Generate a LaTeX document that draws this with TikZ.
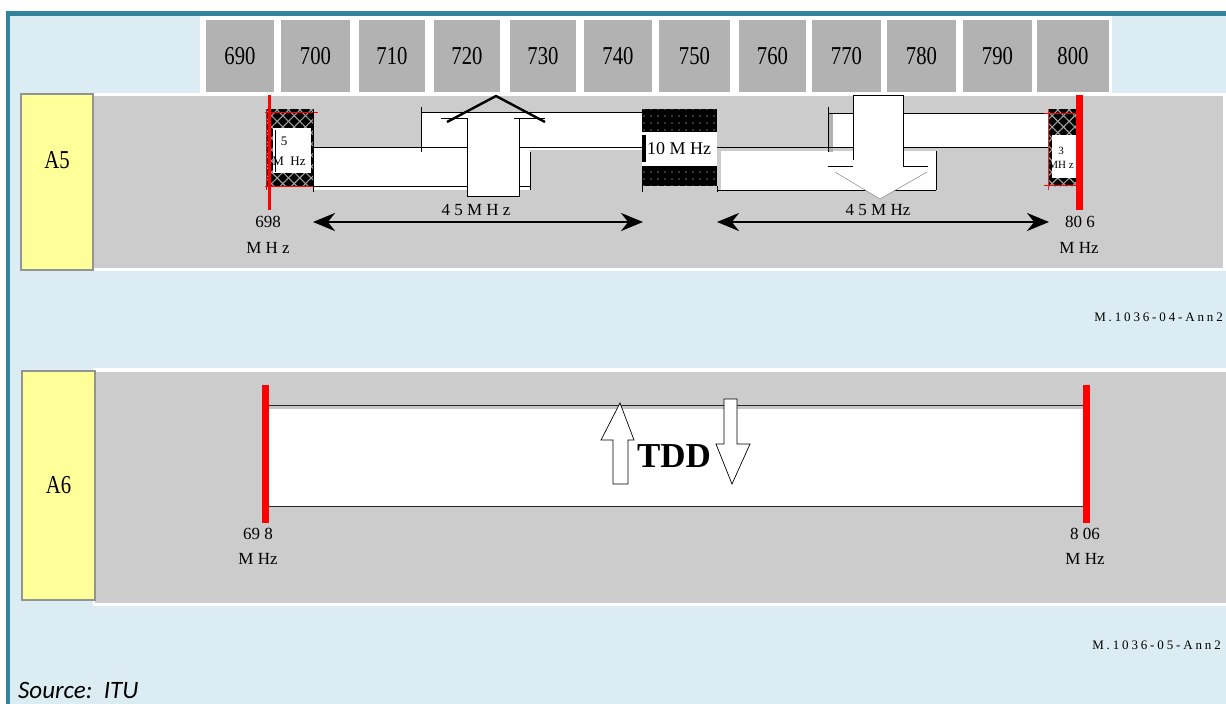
\documentclass[tikz,border=0pt]{standalone}
\usepackage{graphicx}
\usepackage{fontspec}
\setmainfont{Liberation Serif}
\newfontfamily\srcfont{Carlito}
\usetikzlibrary{arrows.meta,patterns.meta}
\definecolor{teal1}{RGB}{49,132,155}
\definecolor{lblue}{RGB}{219,237,243}
\definecolor{hgray}{RGB}{178,178,178}
\definecolor{bgray}{RGB}{204,204,204}
\definecolor{lyel}{RGB}{255,255,153}
\definecolor{rred}{RGB}{255,0,0}
\newcommand\fsz[1]{\fontsize{#1}{#1}\selectfont}
\newcommand\tallnum[1]{\scalebox{0.9}[1.12]{#1}}
\begin{document}
\begin{tikzpicture}[x=1pt,y=-1pt,
  hdr/.style={fill=hgray, minimum height=72pt, inner sep=0pt, font=\fsz{23}},
  lblbox/.style={draw=gray!85, line width=2pt, fill=lyel, inner sep=0pt},
  txt/.style={inner sep=0pt, font=\fsz{17}},
  small/.style={inner sep=0pt, font=\fsz{13}},
  wline/.style={draw=black, line width=0.6pt},
  dbl/.style={line width=2.8pt, {Stealth[length=22pt,width=18pt]}-{Stealth[length=22pt,width=18pt]}},
  redbar/.style={draw=rred, line width=#1},
  hatch/.style={pattern={Lines[angle=#1,distance=8pt,line width=1.1pt]}, pattern color=gray!75},
  dots/.style={pattern={Dots[radius=0.7pt,distance=7pt]}, pattern color=white!85!gray},
  arr/.style={draw=black, fill=white, line width=0.7pt},
  ref/.style={inner sep=0pt, anchor=east, font=\fsz{13}\addfontfeature{LetterSpace=22}}]
\useasboundingbox (0,0) rectangle (1226,704);
% background and frame
\fill[white] (0,0) rectangle (1226,704);
\fill[lblue] (10,16) rectangle (1226,704);
\fill[teal1] (6,11) rectangle (1226,16);
\fill[teal1] (6,11) rectangle (10,704);
% header
\fill[white] (200,16) rectangle (1112,94);
\node[hdr, minimum width=68pt] (h690) at (240,56) {\tallnum{690}};
\node[hdr, minimum width=69pt] (h700) at (315.5,56) {\tallnum{700}};
\node[hdr, minimum width=66pt] (h710) at (392,56) {\tallnum{710}};
\node[hdr, minimum width=66pt] (h720) at (467,56) {\tallnum{720}};
\node[hdr, minimum width=66pt] (h730) at (543,56) {\tallnum{730}};
\node[hdr, minimum width=68pt] (h740) at (618,56) {\tallnum{740}};
\node[hdr, minimum width=71pt] (h750) at (694.5,56) {\tallnum{750}};
\node[hdr, minimum width=67pt] (h760) at (772.5,56) {\tallnum{760}};
\node[hdr, minimum width=69pt] (h770) at (846.5,56) {\tallnum{770}};
\node[hdr, minimum width=69pt] (h780) at (921.5,56) {\tallnum{780}};
\node[hdr, minimum width=69pt] (h790) at (997.5,56) {\tallnum{790}};
\node[hdr, minimum width=72pt] (h800) at (1073,56) {\tallnum{800}};
% A5 row
\fill[white] (92,93) rectangle (1226,271);
\fill[bgray] (94,96) rectangle (1223,268);
\node[lblbox, minimum width=72pt, minimum height=176pt] (a5box) at (57,182) {};
\node[inner sep=0pt, font=\fsz{23}] (a5) at (57,160) {\tallnum{A5}};
% uplink band
\fill[white] (313,148) rectangle (530,190);
\fill[white] (422,112) rectangle (642,150);
\draw[wline] (421,107) -- (421,152);
\draw[wline] (421,112) -- (642,112);
\draw[wline] (313,147) -- (642,147);
\draw[wline] (313,186) -- (530,186);
\draw[wline] (530,152) -- (530,190);
% up arrow (A5)
\path[fill=white] (467,118) rectangle (519,196);
\draw[wline] (467,118) -- (467,196) -- (519,196) -- (519,118);
\draw[wline] (441,118) -- (467,118);
\draw[wline] (514,118) -- (545,118);
\draw[line width=2.4pt] (447,122) -- (496,96) -- (545,122);
% downlink band
\fill[white] (721,151) rectangle (936,190);
\fill[gray!60] (828,113) rectangle (833,152);
\fill[white] (833,113) rectangle (1048,147);
\draw[wline] (828,107) -- (828,152);
\draw[wline] (828,113) -- (1048,113);
\draw[wline] (717,147) -- (1048,147);
\draw[wline] (717,190) -- (936,190);
\draw[wline] (936,151) -- (936,190);
% down arrow (A5)
\path[fill=white] (853,94) rectangle (903,172);
\draw[wline] (853,95) -- (853,166);
\draw[wline] (903,95) -- (903,166);
\draw[wline] (853,95) -- (903,95);
\draw[wline] (828,166) -- (853,166);
\draw[wline] (903,166) -- (928,166);
\path[fill=white, draw=gray, line width=0.5pt] (835,172) -- (880,199) -- (927,172);
\fill[white] (853,160) rectangle (903,175);
% 10 MHz guard block
\fill[black] (642,109) rectangle (717,132);
\fill[black] (642,166) rectangle (717,186);
\path[dots] (642,109) rectangle (717,132);
\path[dots] (642,166) rectangle (717,186);
\fill[white] (642,132) rectangle (717,166);
\node[txt, font=\fsz{18}] (g10) at (679,149) {10 M Hz};
\fill[black] (642,135) rectangle (646,162);
\draw[wline] (642,186) -- (642,192);
\draw[wline] (717,186) -- (717,192);
% left 5 MHz block
\fill[black] (266,109) rectangle (313,186);
\path[hatch=45] (266,109) rectangle (313,186);
\path[hatch=-45] (266,109) rectangle (313,186);
\draw[rred, line width=0.8pt] (265,112) -- (318,112);
\draw[rred, line width=0.8pt] (265,186) -- (313,186);
\draw[rred, line width=0.6pt] (266,109) -- (266,190);
\draw[wline] (313,109) -- (313,192);
\node[fill=white, minimum width=38pt, minimum height=45pt, inner sep=0pt] (b5) at (292,150.5) {};
\draw[wline] (275,130) -- (275,172);
\node[small] (b5a) at (284,141) {5};
\node[small] (b5b) at (289,161) {M\ \ Hz};
% right 3 MHz block
\fill[black] (1048,109) rectangle (1077,186);
\path[hatch=45] (1048,109) rectangle (1077,186);
\path[hatch=-45] (1048,109) rectangle (1077,186);
\draw[rred, line width=0.7pt] (1044,113) -- (1077,113);
\draw[rred, line width=0.7pt] (1044,185) -- (1077,185);
\draw[rred!60!gray, line width=0.6pt] (1048,109) -- (1048,190);
\node[fill=white, minimum width=25pt, minimum height=43pt, inner sep=0pt] (b3) at (1064.5,156.5) {};
\node[inner sep=0pt, font=\fsz{11}] (b3a) at (1061,151) {3};
\node[inner sep=0pt, font=\fsz{11}] (b3b) at (1061,165) {MH z};
% red edges A5
\draw[redbar=3pt] (269,95) -- (269,210);
\draw[redbar=7pt] (1079.5,95) -- (1079.5,210);
% 45 MHz arrows
\coordinate (ul1) at (313,222);
\coordinate (ul2) at (643,222);
\coordinate (dl1) at (717,222);
\coordinate (dl2) at (1049,222);
\draw[dbl] (ul1) -- (ul2);
\draw[dbl] (dl1) -- (dl2);
\node[txt] (ulbl) at (476,210) {4 5 M H z};
\node[txt] (dlbl) at (878,210) {4 5 M Hz};
\node[txt] (f698a) at (268,222) {698};
\node[txt] (f698b) at (268,248) {M H z};
\node[txt] (f806a) at (1080,222) {80 6};
\node[txt] (f806b) at (1079,248) {M Hz};
\node[ref] (ref4) at (1223,317) {M.1036-04-Ann2};
% A6 row
\fill[white] (93,368) rectangle (1226,606);
\fill[bgray] (95,372) rectangle (1226,603);
\node[lblbox, minimum width=73pt, minimum height=229pt, font=\fsz{23}] (a6) at (58.5,485) {\tallnum{A6}};
\fill[white] (265,405) rectangle (1086,506);
\fill[gray!45] (265,406) rectangle (1086,409);
\draw[draw=gray!30!black, line width=1pt] (265,405) -- (1086,405);
\draw[draw=gray!30!black, line width=1pt] (265,506) -- (1086,506);
\draw[redbar=7pt] (265.5,385) -- (265.5,523);
\draw[redbar=7pt] (1086.5,385) -- (1086.5,523);
\path[arr] (613,484) -- (613,440) -- (601,440) -- (620,403) -- (634,440) -- (628,440) -- (628,484) -- cycle;
\path[arr] (724,399) -- (737,399) -- (737,444) -- (750,444) -- (732,484) -- (716,444) -- (724,444) -- cycle;
\node[inner sep=0pt, font=\fsz{35}\bfseries] (tdd) at (674,456) {TDD};
\node[txt] (g698a) at (258,534) {69 8};
\node[txt] (g698b) at (258,559) {M Hz};
\node[txt] (g806a) at (1085,534) {8 06};
\node[txt] (g806b) at (1085,559) {M Hz};
\node[ref] (ref5) at (1221,645) {M.1036-05-Ann2};
% source
\node[inner sep=0pt, anchor=base west, font=\srcfont\itshape\fsz{25}] (src) at (18,698) {Source:\ \ ITU};
\end{tikzpicture}
\end{document}
